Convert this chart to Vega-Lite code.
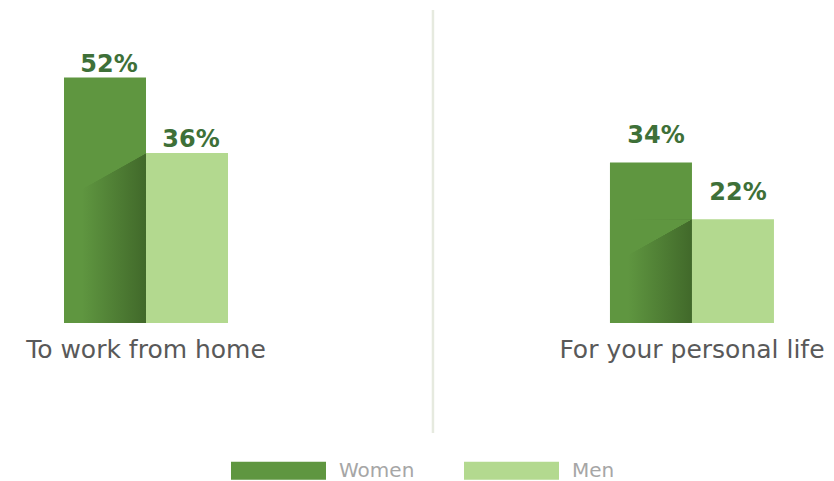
{
  "$schema": "https://vega.github.io/schema/vega-lite/v6.json",
  "width": 834,
  "height": 423,
  "autosize": "none",
  "padding": {"top": 10, "left": 0, "right": 0, "bottom": 48},
  "background": "#ffffff",
  "config": {"view": {"stroke": null}},
  "data": {
    "values": [
      {"group": "To work from home", "gender": "Women", "value": 0.52},
      {"group": "To work from home", "gender": "Men", "value": 0.36},
      {"group": "For your personal life", "gender": "Women", "value": 0.34},
      {"group": "For your personal life", "gender": "Men", "value": 0.22}
    ]
  },
  "encoding": {
    "x": {
      "field": "group",
      "type": "nominal",
      "sort": ["To work from home", "For your personal life"],
      "scale": {"paddingInner": 0.6996, "paddingOuter": 0.1136, "align": 0.516},
      "axis": {
        "title": null,
        "orient": "bottom",
        "domain": false,
        "ticks": false,
        "labelAngle": 0,
        "labelFont": "DejaVu Sans",
        "labelFontSize": 25,
        "labelColor": "#595959",
        "labelLimit": 0,
        "labelBaseline": "alphabetic",
        "labelPadding": 0,
        "offset": -76
      }
    }
  },
  "layer": [
    {
      "mark": {"type": "rule", "color": "#e6eadf", "strokeWidth": 2.5, "xOffset": -177},
      "data": {"values": [{}]},
      "encoding": {
        "x": {"datum": "For your personal life", "type": "nominal", "bandPosition": 0}
      }
    },
    {
      "mark": {"type": "bar"},
      "encoding": {
        "xOffset": {"field": "gender", "type": "nominal", "sort": ["Women", "Men"], "scale": {"paddingInner": 0, "paddingOuter": 0}},
        "y": {"field": "value", "type": "quantitative", "scale": {"domain": [-0.233, 0.663], "nice": false, "zero": false}, "axis": null},
        "y2": {"datum": 0},
        "color": {
          "field": "gender",
          "type": "nominal",
          "sort": ["Women", "Men"],
          "scale": {"domain": ["Women", "Men"], "range": ["#5f9640", "#b3d98f"]},
          "legend": {
            "title": null,
            "orient": "none",
            "direction": "horizontal",
            "legendX": 231,
            "legendY": 413,
            "padding": 0,
            "symbolType": "M-1,-0.19L1,-0.19L1,0.19L-1,0.19Z",
            "symbolSize": 9025,
            "symbolStrokeWidth": 0,
            "symbolOpacity": 1,
            "labelFont": "DejaVu Sans",
            "labelFontSize": 20,
            "labelColor": "#a6a6a6",
            "labelOffset": 13,
            "columnPadding": 49
          }
        }
      }
    },
    {
      "transform": [{"filter": "datum.gender === 'Men'"}],
      "mark": {
        "type": "bar",
        "fill": {
          "gradient": "linear", "x1": 0, "y1": 0, "x2": 1, "y2": 0,
          "stops": [
            {"offset": 0, "color": "rgba(35,60,20,0)"},
            {"offset": 0.22, "color": "rgba(35,60,20,0)"},
            {"offset": 1, "color": "rgba(35,60,20,0.5)"}
          ]
        }
      },
      "encoding": {
        "xOffset": {"datum": "Women"},
        "y": {"field": "value", "type": "quantitative"},
        "y2": {"datum": 0}
      }
    },
    {
      "transform": [{"filter": "datum.gender === 'Men' && datum.group === 'To work from home'"}],
      "mark": {
        "type": "bar",
        "fill": {
          "gradient": "linear", "x1": 0, "y1": 0, "x2": 0.3196, "y2": 1.1837,
          "stops": [
            {"offset": 0, "color": "#5f9640"},
            {"offset": 0.2126, "color": "#5f9640"},
            {"offset": 0.216, "color": "rgba(95,150,64,0)"},
            {"offset": 1, "color": "rgba(95,150,64,0)"}
          ]
        }
      },
      "encoding": {
        "xOffset": {"datum": "Women"},
        "y": {"field": "value", "type": "quantitative"},
        "y2": {"datum": 0}
      }
    },
    {
      "transform": [{"filter": "datum.gender === 'Men' && datum.group === 'For your personal life'"}],
      "mark": {
        "type": "bar",
        "fill": {
          "gradient": "linear", "x1": 0, "y1": 0, "x2": 0.5332, "y2": 1.2063,
          "stops": [
            {"offset": 0, "color": "#5f9640"},
            {"offset": 0.3065, "color": "#5f9640"},
            {"offset": 0.31, "color": "rgba(95,150,64,0)"},
            {"offset": 1, "color": "rgba(95,150,64,0)"}
          ]
        }
      },
      "encoding": {
        "xOffset": {"datum": "Women"},
        "y": {"field": "value", "type": "quantitative"},
        "y2": {"datum": 0}
      }
    },
    {
      "transform": [{"filter": "datum.group === 'To work from home'"}],
      "mark": {"type": "text", "font": "DejaVu Sans", "fontWeight": "bold", "fontSize": 24, "color": "#3e7038", "baseline": "alphabetic", "dy": -6, "dx": 4},
      "encoding": {
        "xOffset": {"field": "gender", "type": "nominal", "sort": ["Women", "Men"]},
        "y": {"field": "value", "type": "quantitative"},
        "text": {"field": "value", "type": "quantitative", "format": ".0%"}
      }
    },
    {
      "transform": [{"filter": "datum.group === 'For your personal life'"}],
      "mark": {"type": "text", "font": "DejaVu Sans", "fontWeight": "bold", "fontSize": 24, "color": "#3e7038", "baseline": "alphabetic", "dy": -19, "dx": 5},
      "encoding": {
        "xOffset": {"field": "gender", "type": "nominal", "sort": ["Women", "Men"]},
        "y": {"field": "value", "type": "quantitative"},
        "text": {"field": "value", "type": "quantitative", "format": ".0%"}
      }
    }
  ]
}
